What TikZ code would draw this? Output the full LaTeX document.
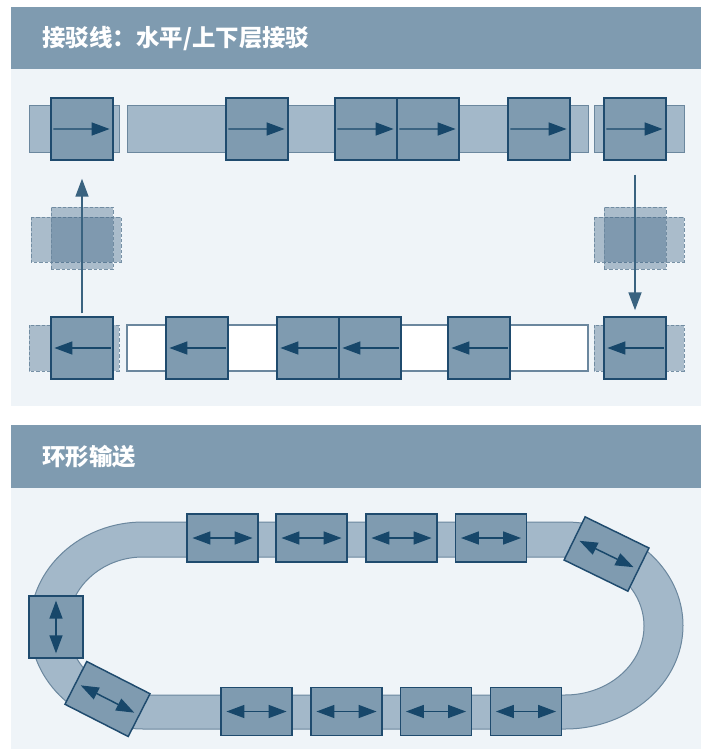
\documentclass[tikz,border=0pt]{standalone}
\usepackage{fontspec}
\newfontfamily\cjk{Noto Sans CJK SC}
\usetikzlibrary{arrows.meta,calc}
\definecolor{hdr}{HTML}{7F9BB0}
\definecolor{pbg}{HTML}{EFF4F8}
\definecolor{railc}{HTML}{A3B8C9}
\definecolor{railb}{HTML}{6B879E}
\definecolor{cfill}{HTML}{7F9BB0}
\definecolor{cbord}{HTML}{1F4B6E}
\definecolor{arrc}{HTML}{17476A}
\definecolor{ghostc}{HTML}{3A6182}
\def\u{0.75pt}
\begin{document}
\begin{tikzpicture}[x=0.75pt,y=-0.75pt,
  >={Triangle[length=13.5pt,width=9.75pt]},
  title/.style={anchor=west,text=white,font=\cjk\bfseries\fontsize{17.6}{20}\selectfont,inner sep=0pt},
  rail/.style={fill=railc,draw=railb,line width=0.75pt},
  wrail/.style={fill=white,draw=railb,line width=0.9pt},
  grail/.style={fill=ghostc,fill opacity=0.38,draw=railb,draw opacity=0.9,line width=0.75pt,dash pattern=on 2.5pt off 1.5pt},
  car/.style={rectangle,draw=cbord,fill=cfill,line width=1.1pt,inner sep=0pt,minimum width=62*\u,minimum height=62*\u},
  gcar/.style={rectangle,fill=ghostc,fill opacity=0.38,draw=railb,draw opacity=0.9,line width=0.75pt,dash pattern=on 2.5pt off 1.5pt,inner sep=0pt,minimum width=62*\u,minimum height=62*\u},
  wcar/.style={car,minimum width=71*\u,minimum height=48*\u},
  vcar/.style={car,minimum width=54*\u,minimum height=62*\u},
  carr/.style={draw=arrc,line width=1.1pt},
  varr/.style={draw=arrc!85!white,line width=1.3pt}
]
\useasboundingbox (0,0) rectangle (710,749);
\fill[white] (0,0) rectangle (710,749);
% panel 1
\fill[hdr] (11,7) rectangle (701,69);
\fill[pbg] (11,69) rectangle (701,406);
\node[title] (h1) at (42,38.5) {接驳线：水平/上下层接驳};
% panel 2
\fill[hdr] (11,425) rectangle (701,488);
\fill[pbg] (11,488) rectangle (701,749);
\node[title] (h2) at (42,457) {环形输送};

% ---- panel 1 rails
\draw[rail] (29,105) rectangle (119,152);
\draw[rail] (127,105) rectangle (588,152);
\draw[rail] (594,105) rectangle (684,152);
\draw[grail] (29,325) rectangle (119,371);
\draw[wrail] (127,325) rectangle (588,371);
\draw[grail] (594,325) rectangle (684,371);
\draw[grail] (31,217) rectangle (121,262);
\draw[grail] (594,217) rectangle (684,262);

% ghosts
\node[gcar] (g1) at (82,238) {};
\node[gcar] (g2) at (635,238) {};

% top row
\foreach \n/\x in {t1/82,t2/257,t3/366,t4/428,t5/539,t6/635}{
  \node[car] (\n) at (\x,129) {};
  \draw[carr,->] ($(\n.center)!0.9!(\n.west)$) -- ($(\n.center)!0.87!(\n.east)$);
}
% bottom row
\foreach \n/\x in {b1/82,b2/197,b3/308,b4/370,b5/479,b6/635}{
  \node[car] (\n) at (\x,348) {};
  \draw[carr,->] ($(\n.center)!0.9!(\n.east)$) -- ($(\n.center)!0.87!(\n.west)$);
}
% vertical transfer arrows
\draw[varr,->,shorten <=2.25pt,shorten >=13.5pt] (b1.north) -- (t1.south);
\draw[varr,->,shorten <=10.5pt,shorten >=4.5pt] (t6.south) -- (b6.north);

% ---- panel 2 track
\path[rail,even odd rule]
  (143,522) -- (565,522) arc[start angle=-90,end angle=90,x radius=118,y radius=103.5]
  -- (143,729) arc[start angle=90,end angle=270,x radius=113,y radius=103.5] -- cycle
  (143,557) -- (565,557) arc[start angle=-90,end angle=90,x radius=79,y radius=69]
  -- (143,695) arc[start angle=90,end angle=270,x radius=75,y radius=69] -- cycle;

\foreach \n/\x in {u1/222.5,u2/311.5,u3/401.5,u4/491}{
  \node[wcar] (\n) at (\x,538) {};
}
\foreach \n/\x in {d1/256.5,d2/346.5,d3/436,d4/526}{
  \node[wcar] (\n) at (\x,711.5) {};
}
\node[wcar,rotate=-26] (r1) at (606.5,554) {};
\node[wcar,rotate=-27] (r2) at (107.5,699) {};
\foreach \n in {u1,u2,u3,u4,d1,d2,d3,d4,r1,r2}{
  \draw[carr,<->] ($(\n.center)!0.83!(\n.west)$) -- ($(\n.center)!0.83!(\n.east)$);
}
\node[vcar] (v1) at (56,627) {};
\draw[carr,<->] ($(v1.center)!0.83!(v1.north)$) -- ($(v1.center)!0.83!(v1.south)$);
\end{tikzpicture}
\end{document}
